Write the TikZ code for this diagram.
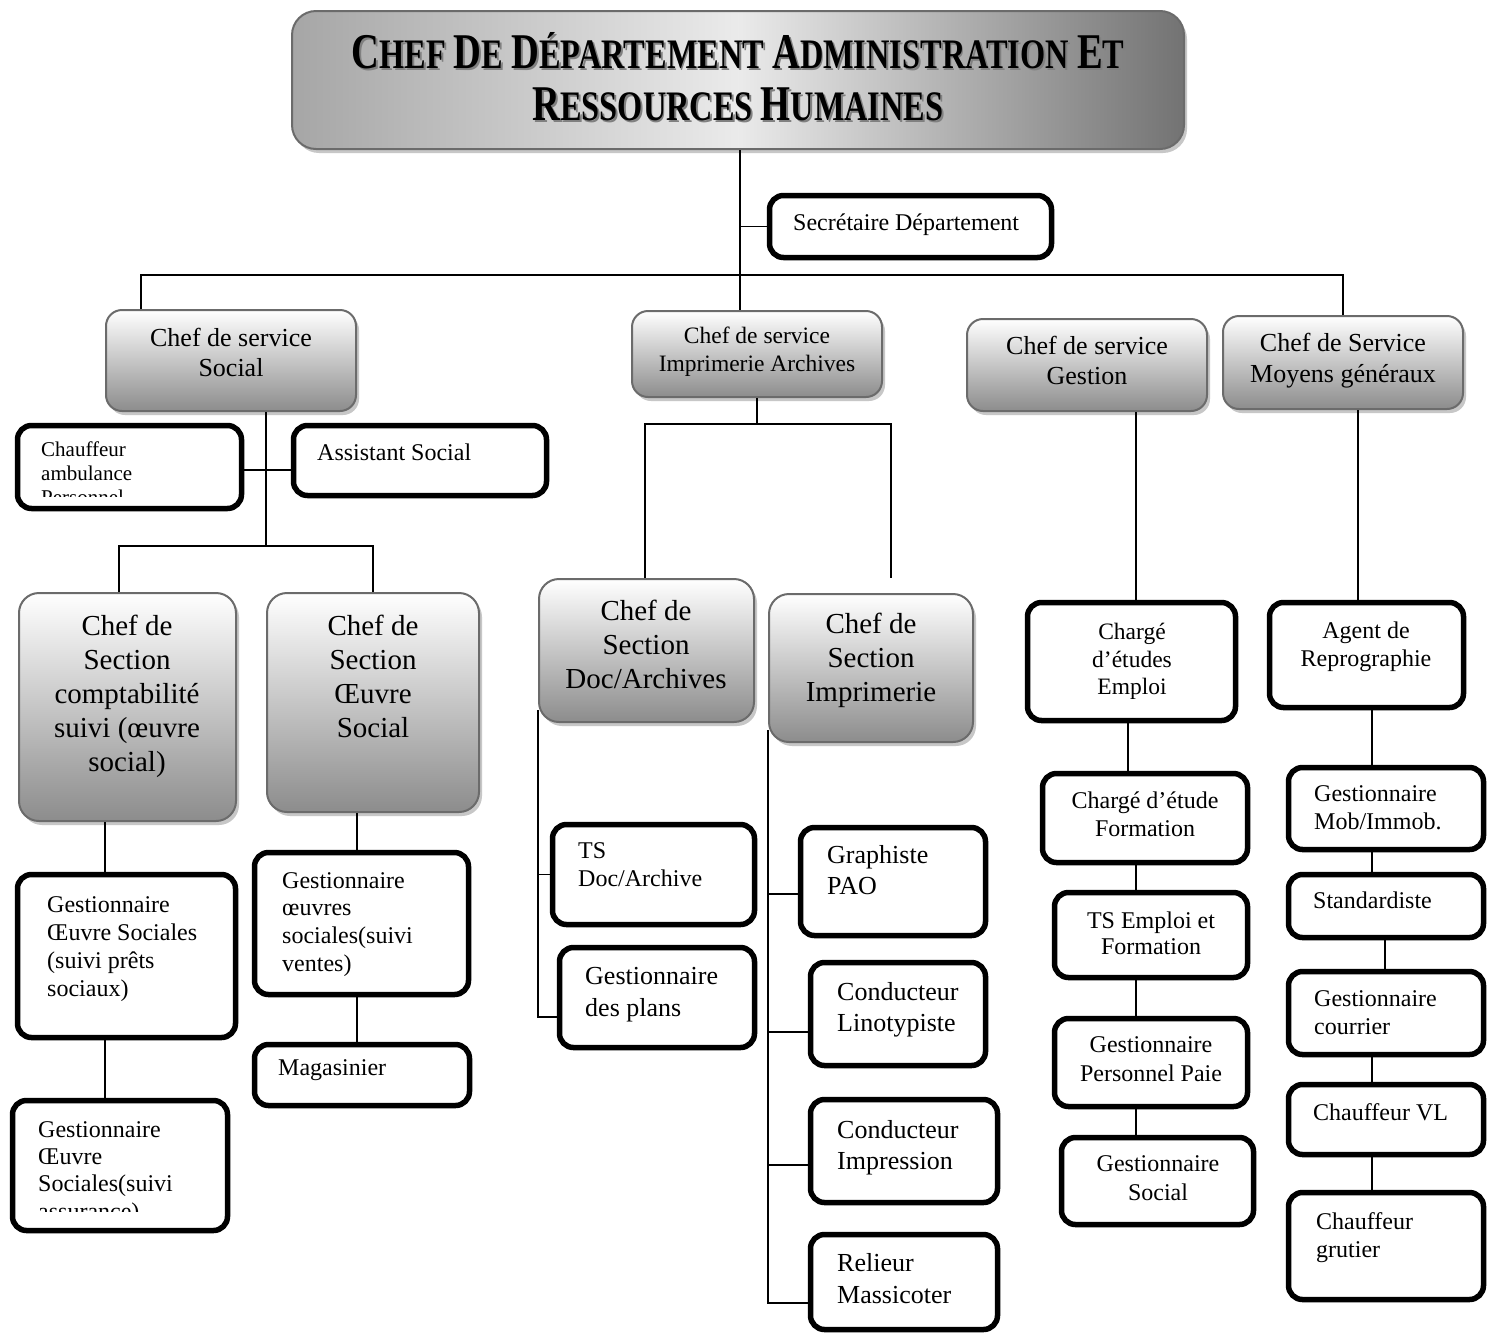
\documentclass[tikz,border=0pt]{standalone}
\usepackage{fontspec}
\usepackage{graphicx}
\setmainfont{Liberation Serif}
\usetikzlibrary{shadows}
\newcommand\fz[2]{\fontsize{#1}{#2}\selectfont}
\newcommand\tw[2]{{\fontsize{50}{50}\selectfont #1}#2}
\newcommand\titleone{\fontsize{42}{42}\selectfont\bfseries\tw{C}{HEF} \tw{D}{E} \tw{D}{ÉPARTEMENT} \tw{A}{DMINISTRATION} \tw{E}{T}}
\newcommand\titletwo{\fontsize{42}{42}\selectfont\bfseries\tw{R}{ESSOURCES} \tw{H}{UMAINES}}
\newcommand\shadowed[1]{\rlap{\kern2.5pt\raisebox{-2.5pt}{\color{black!50}#1}}#1}
\begin{document}
\begin{tikzpicture}[x=1pt,y=-1pt,
  tk/.style={draw=black,line width=5.5pt,rounded corners=14pt,inner sep=0pt,fill=white},
  gr/.style={draw=black!58,line width=2pt,rounded corners=#1,inner sep=0pt,
    top color=white,bottom color=black!45,
    drop shadow={shadow xshift=3pt,shadow yshift=-4pt,fill=black!22,opacity=1}},
  gr/.default=16pt,
  ln/.style={line width=1.8pt},
  lt/.style={inner sep=0pt,anchor=north west,align=left,font=\fz{24}{28}},
  ct/.style={inner sep=0pt,anchor=north,align=center,font=\fz{24}{28}},
]
\useasboundingbox[fill=white] (0,0) rectangle (1496,1334);

% ---------- title ----------
\node[draw=black!58,line width=2pt,rounded corners=24pt,inner sep=0pt,
  left color=black!35,right color=black!55,middle color=black!8,
  drop shadow={shadow xshift=3pt,shadow yshift=-4pt,fill=black!22,opacity=1},
  minimum width=892pt,minimum height=138pt] (title) at (738,80) {};
\node[inner sep=0pt,anchor=base] (t1) at (738,68) {\resizebox{773pt}{\height}{\shadowed{\titleone}}};
\node[inner sep=0pt,anchor=base] (t2) at (738,120) {\resizebox{411pt}{\height}{\shadowed{\titletwo}}};

% ---------- secretary ----------
\node[tk,minimum width=282pt,minimum height=62pt] (secr) at (910.5,226.5) {};
\node[lt] (secrt) at (793,214) {Secrétaire Département};

% ---------- services ----------
\node[gr,minimum width=250pt,minimum height=101pt] (ssoc) at (231,360.5) {};
\node[ct,font=\fz{26}{30}] (ssoct) at (231,328) {Chef de service\\Social};
\node[gr,minimum width=250pt,minimum height=86pt] (simp) at (757,354) {};
\node[ct,font=\fz{23.5}{28}] (simpt) at (757,327) {Chef de service\\Imprimerie Archives};
\node[gr,minimum width=240pt,minimum height=92pt] (sges) at (1087,365) {};
\node[ct,font=\fz{26}{30}] (sgest) at (1087,336) {Chef de service\\Gestion};
\node[gr,minimum width=240pt,minimum height=93pt] (smoy) at (1343,362.5) {};
\node[ct,font=\fz{26}{31}] (smoyt) at (1343,333) {Chef de Service\\Moyens généraux};

% ---------- social branch ----------
\node[tk,minimum width=224pt,minimum height=83pt] (chauf) at (129.5,467) {};
\begin{scope}
  \clip (15,423) rectangle (244,496);
  \node[lt,font=\fz{21}{24}] (chauft) at (41,442) {Chauffeur\\ambulance\\Personnel};
\end{scope}
\node[tk,minimum width=253pt,minimum height=70pt] (assist) at (420,460.5) {};
\node[lt] (assistt) at (317,444) {Assistant Social};

\node[gr=20pt,minimum width=217pt,minimum height=228pt] (compta) at (127.5,707) {};
\node[ct,font=\fz{29}{34}] (comptat) at (127,615) {Chef de\\Section\\comptabilité\\suivi (œuvre\\social)};
\node[gr=20pt,minimum width=212pt,minimum height=219pt] (oeuv) at (373,702.5) {};
\node[ct,font=\fz{29}{34}] (oeuvt) at (373,615) {Chef de\\Section\\Œuvre\\Social};

\node[tk,minimum width=218pt,minimum height=163pt] (gos1) at (126.5,956) {};
\node[lt] (gos1t) at (47,896) {Gestionnaire\\Œuvre Sociales\\(suivi prêts\\sociaux)};
\node[tk,minimum width=215pt,minimum height=130pt] (gos2) at (120,1165.5) {};
\begin{scope}
  \clip (10,1098) rectangle (230,1211);
  \node[lt,font=\fz{24}{27.3}] (gos2t) at (38,1121) {Gestionnaire\\Œuvre\\Sociales(suivi\\assurance)};
\end{scope}
\node[tk,minimum width=214pt,minimum height=142pt] (gov) at (361.5,923.5) {};
\node[lt,font=\fz{24}{27.7}] (govt) at (282,872) {Gestionnaire\\œuvres\\sociales(suivi\\ventes)};
\node[tk,minimum width=215pt,minimum height=61pt] (mag) at (362,1075) {};
\node[lt] (magt) at (278,1059) {Magasinier};

% ---------- imprimerie branch ----------
\node[gr=20pt,minimum width=215pt,minimum height=143pt] (doca) at (646.5,650.5) {};
\node[ct,font=\fz{29}{34}] (docat) at (646,600) {Chef de\\Section\\Doc/Archives};
\node[gr=20pt,minimum width=204pt,minimum height=148pt] (imps) at (871,668) {};
\node[ct,font=\fz{29}{34}] (impst) at (871,613) {Chef de\\Section\\Imprimerie};

\node[tk,minimum width=202pt,minimum height=100pt] (tsdoc) at (653.5,874.5) {};
\node[lt] (tsdoct) at (578,842) {TS\\Doc/Archive};
\node[tk,minimum width=195pt,minimum height=100pt] (gplans) at (657,997.5) {};
\node[lt,font=\fz{26}{32}] (gplanst) at (585,967) {Gestionnaire\\des plans};

\node[tk,minimum width=185pt,minimum height=108pt] (graph) at (893,881.5) {};
\node[lt,font=\fz{26}{31}] (grapht) at (827,845) {Graphiste\\PAO};
\node[tk,minimum width=175pt,minimum height=103pt] (lino) at (898,1014) {};
\node[lt,font=\fz{26}{31}] (linot) at (837,982) {Conducteur\\Linotypiste};
\node[tk,minimum width=187pt,minimum height=103pt] (impr) at (904,1151) {};
\node[lt,font=\fz{26}{31}] (imprt) at (837,1120) {Conducteur\\Impression};
\node[tk,minimum width=187pt,minimum height=95pt] (rel) at (904,1282) {};
\node[lt,font=\fz{26}{32}] (relt) at (837,1253) {Relieur\\Massicoter};

% ---------- gestion branch ----------
\node[tk,minimum width=208pt,minimum height=118pt] (emploi) at (1131.5,661.5) {};
\node[ct,font=\fz{23.5}{27.5}] (emploit) at (1132,623) {Chargé\\d’études\\Emploi};
\node[tk,minimum width=205pt,minimum height=89pt] (form) at (1145,818) {};
\node[ct] (formt) at (1145,792) {Chargé d’étude\\Formation};
\node[tk,minimum width=193pt,minimum height=85pt] (tsef) at (1151,935) {};
\node[ct,font=\fz{24}{26}] (tseft) at (1151,912) {TS Emploi et\\Formation};
\node[tk,minimum width=193pt,minimum height=88pt] (paie) at (1151,1062.5) {};
\node[ct,font=\fz{24}{29}] (paiet) at (1151,1036) {Gestionnaire\\Personnel Paie};
\node[tk,minimum width=192pt,minimum height=87pt] (gsoc) at (1157.5,1181) {};
\node[ct,font=\fz{24}{29}] (gsoct) at (1158,1155) {Gestionnaire\\Social};

% ---------- moyens generaux branch ----------
\node[tk,minimum width=194pt,minimum height=105pt] (repro) at (1366.5,655) {};
\node[ct] (reprot) at (1366,622) {Agent de\\Reprographie};
\node[tk,minimum width=195pt,minimum height=82pt] (mob) at (1386,808.5) {};
\node[lt] (mobt) at (1314,785) {Gestionnaire\\Mob/Immob.};
\node[tk,minimum width=195pt,minimum height=63pt] (std) at (1386,906) {};
\node[lt] (stdt) at (1313,892) {Standardiste};
\node[tk,minimum width=195pt,minimum height=83pt] (cour) at (1386,1013) {};
\node[lt] (court) at (1314,990) {Gestionnaire\\courrier};
\node[tk,minimum width=195pt,minimum height=70pt] (vl) at (1386,1119.5) {};
\node[lt] (vlt) at (1313,1103) {Chauffeur VL};
\node[tk,minimum width=195pt,minimum height=107pt] (grut) at (1386,1246) {};
\node[lt] (grutt) at (1316,1212) {Chauffeur\\grutier};

% ---------- connectors ----------
\coordinate (tx) at ([xshift=2pt]title.south);
\coordinate (busy) at (0,275);
\coordinate (sbus) at (266,546);
\coordinate (ibus) at (757,424);
\coordinate (iend) at (891,578);

\draw[ln] (tx) -- (tx |- simp.north);
\draw[ln] (secr.west) -- (secr.west -| tx);
\draw[ln] ([xshift=-90pt]ssoc.north) |- (busy -| smoy.north) -- (smoy.north);

\draw[ln] ([xshift=35pt]ssoc.south) -- (sbus);
\draw[ln] ([yshift=-3pt]chauf.east) -- ([yshift=-3pt]chauf.east -| assist.west);
\draw[ln] ([xshift=-8.5pt]compta.north) |- (sbus) -| (oeuv.north);
\draw[ln] ([xshift=-22.5pt]compta.south) -- ([xshift=-22.5pt]compta.south |- gos1.north);
\draw[ln] ([xshift=-21.5pt]gos1.south) -- ([xshift=-21.5pt]gos1.south |- gos2.north);
\draw[ln] ([xshift=-16pt]oeuv.south) -- ([xshift=-16pt]oeuv.south |- gov.north);
\draw[ln] ([xshift=-4.5pt]gov.south) -- ([xshift=-4.5pt]gov.south |- mag.north);

\draw[ln] (simp.south) -- (ibus);
\draw[ln] ([xshift=-1.5pt]doca.north) |- (ibus) -| (iend);
\draw[ln] ([yshift=-59.5pt]doca.west) |- ([yshift=-19.5pt]gplans.west);
\draw[ln] (tsdoc.west -| doca.west) -- (tsdoc.west);
\draw[ln] ([yshift=-62pt]imps.west) |- ([yshift=-21pt]rel.west);
\draw[ln] ([yshift=-12.5pt]graph.west) -- ([yshift=-12.5pt]graph.west -| imps.west);
\draw[ln] ([yshift=-18pt]lino.west) -- ([yshift=-18pt]lino.west -| imps.west);
\draw[ln] ([yshift=-14pt]impr.west) -- ([yshift=-14pt]impr.west -| imps.west);

\draw[ln] ([xshift=49pt]sges.south) -- ([xshift=49pt]sges.south |- emploi.north);
\draw[ln] ([xshift=-3.5pt]emploi.south) -- ([xshift=-3.5pt]emploi.south |- form.north);
\draw[ln] ([xshift=-9pt]form.south) -- ([xshift=-9pt]form.south |- tsef.north);
\draw[ln] ([xshift=-15pt]tsef.south) -- ([xshift=-15pt]tsef.south |- paie.north);
\draw[ln] ([xshift=-15pt]paie.south) -- ([xshift=-15pt]paie.south |- gsoc.north);

\draw[ln] ([xshift=15pt]smoy.south) -- ([xshift=15pt]smoy.south |- repro.north);
\draw[ln] ([xshift=5.5pt]repro.south) -- ([xshift=5.5pt]repro.south |- mob.north);
\draw[ln] ([xshift=-14pt]mob.south) -- ([xshift=-14pt]mob.south |- std.north);
\draw[ln] ([xshift=-1pt]std.south) -- ([xshift=-1pt]std.south |- cour.north);
\draw[ln] ([xshift=-14pt]cour.south) -- ([xshift=-14pt]cour.south |- vl.north);
\draw[ln] ([xshift=-14pt]vl.south) -- ([xshift=-14pt]vl.south |- grut.north);
\end{tikzpicture}
\end{document}
